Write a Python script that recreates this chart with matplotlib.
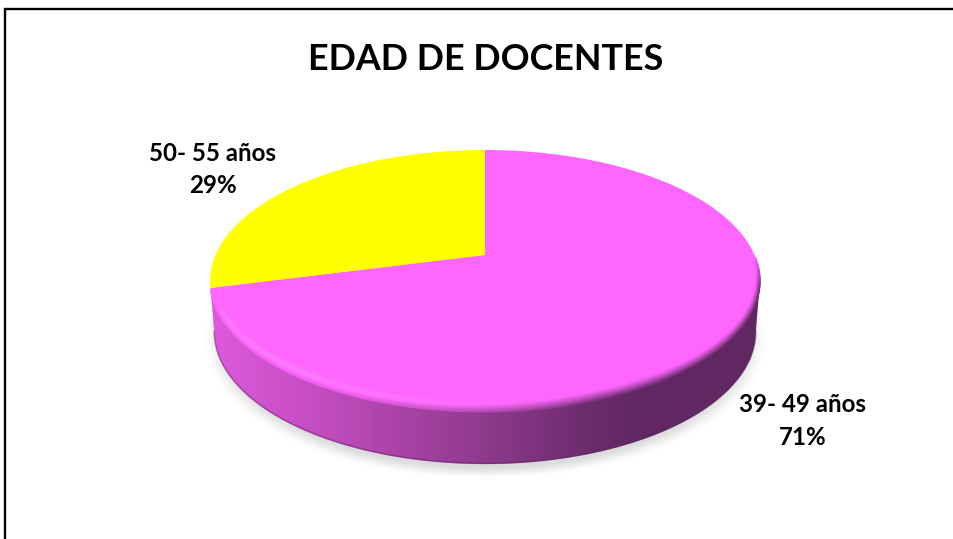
import numpy as np
import matplotlib
matplotlib.use("Agg")
import matplotlib.pyplot as plt
from matplotlib.transforms import Transform
from matplotlib.path import Path
from matplotlib.collections import LineCollection
from matplotlib.colors import LinearSegmentedColormap, to_rgb

title = "EDAD DE DOCENTES"
categories = ["39- 49 años", "50- 55 años"]
values = [71, 29]
colors = ["#FF66FF", "#FFFF00"]

W, H = 954, 539
plt.rcParams['font.family'] = ['Lato', 'DejaVu Sans']


class Tilt(Transform):
    """Perspective view of the unit disc, into pixel coordinates."""
    input_dims = output_dims = 2
    has_inverse = False

    def __init__(self, cx, width, far, mid, near):
        super().__init__()
        self.cx, self.w, self.a = cx, width, mid
        self.c = (2 * mid - far - near) / (far - near)
        self.b = far * (1 + self.c) - mid

    def transform_non_affine(self, v):
        v = np.asarray(v, float)
        d = 1 + self.c * v[:, 1]
        return np.column_stack([self.cx + self.w * v[:, 0] / d,
                                (self.a + self.b * v[:, 1]) / d])


top = Tilt(485, 269.5, 150, 255, 412)
base = Tilt(485, 265.5, 200, 306, 464)

fig = plt.figure(figsize=(W / 100, H / 100), dpi=100, facecolor="white")
ax = fig.add_axes([0, 0, 1, 1])
wedges, _ = ax.pie(values, colors=colors, startangle=90, counterclock=False,
                   wedgeprops=dict(linewidth=0))
for w in wedges:
    w.set_transform(top + ax.transData)
    w.set_zorder(4)

# soft ground shadow
yy, xx = np.mgrid[0:H, 0:W]
d = np.hypot((xx - 485) / 283, (yy - 340) / 139)
s = np.clip((1 - d) / 0.10, 0, 1)
s = s * s * (3 - 2 * s)
shadow = np.dstack([np.full(d.shape, 0.86)] * 3 + [s])
ax.imshow(shadow, extent=(0, W, H, 0), aspect="auto", zorder=1, interpolation="bilinear")

# side wall with horizontal gradient
wall_cmap = LinearSegmentedColormap.from_list("wall", [
    (0.0, "#DC5ADC"), (213 / W, "#DC5ADC"), (300 / W, "#C94FC6"), (380 / W, "#B045AD"),
    (485 / W, "#8E3A8D"), (590 / W, "#6C2C6E"), (640 / W, "#612863"), (1.0, "#5F2762")])
t = np.linspace(np.pi + 0.2, 2 * np.pi - 0.2, 200)
ring = np.column_stack([np.cos(t), np.sin(t)])
low = base.transform_non_affine(ring)
up = top.transform_non_affine(ring)
clip = Path(np.vstack([low, up[::-1], low[:1]]))
img = ax.imshow(np.linspace(0, 1, W)[None, :], extent=(0, W, H, 0), aspect="auto",
                cmap=wall_cmap, zorder=2, interpolation="bilinear")
img.set_clip_path(clip, ax.transData)

# darker lower edge of the wall
ax.plot(low[:, 0], low[:, 1] - 0.6, color="#5F2762", lw=1.2, alpha=0.45, zorder=3)

# bevelled rim of the top face
t = np.linspace(np.pi + 0.27, 2 * np.pi - 0.02, 260)
tm = (t[:-1] + t[1:]) / 2
fade = (np.clip((tm - (np.pi + 0.27)) / 0.25, 0, 1)
        * np.clip((2 * np.pi - 0.02 - tm) / 0.22, 0, 1))
segments, seg_colors = [], []
pink = np.array(to_rgb("#FF66FF"))
light = np.array(to_rgb("#FF90FF"))
for depth in np.linspace(0, 1, 26):
    ring = np.column_stack([(1 - 0.022 * depth) * np.cos(t), (1 - 0.075 * depth) * np.sin(t)])
    p = top.transform_non_affine(ring)
    xs = (p[:-1, 0] + p[1:, 0]) / 2
    shade = np.clip((xs - 300) / 300, 0, 1)
    edge = np.array(wall_cmap(np.clip(xs / W, 0, 1)))[:, :3]
    dark_a = np.clip(1 - depth / (0.25 + 0.55 * shade), 0, 1) ** 1.2 * (0.35 + 0.65 * shade) * fade
    high_a = np.exp(-((depth - 0.55) / 0.25) ** 2) * np.clip((560 - xs) / 260, 0, 1) * 0.5 * fade
    rgb = (light * high_a[:, None] + edge * dark_a[:, None]
           + pink * np.clip(1 - high_a - dark_a, 0, 1)[:, None])
    for i in range(len(xs)):
        segments.append(p[i:i + 2])
        seg_colors.append((*np.clip(rgb[i], 0, 1), 1.0))
ax.add_collection(LineCollection(segments, colors=seg_colors, linewidths=1.1, zorder=5,
                                 capstyle="butt"))

# frame of the chart area
ax.plot([5.5, 5.5, W], [H, 9, 9], color="black", lw=1.7, solid_joinstyle="miter", zorder=7)

ax.text(486, 59.5, title, ha="center", va="center", fontsize=25.8, fontweight="bold", color="black", zorder=8)
label_xy = [(803, 421), (213, 169.5)]
for cat, val, (lx, ly) in zip(categories, values, label_xy):
    ax.text(lx, ly, f"{cat}\n{val}%", ha="center", va="center", fontsize=17.4, fontweight="bold",
            linespacing=1.5, color="black", zorder=8)

ax.set_aspect("auto")
ax.set_xlim(0, W)
ax.set_ylim(H, 0)
ax.axis("off")
fig.savefig("out.png", dpi=100)
